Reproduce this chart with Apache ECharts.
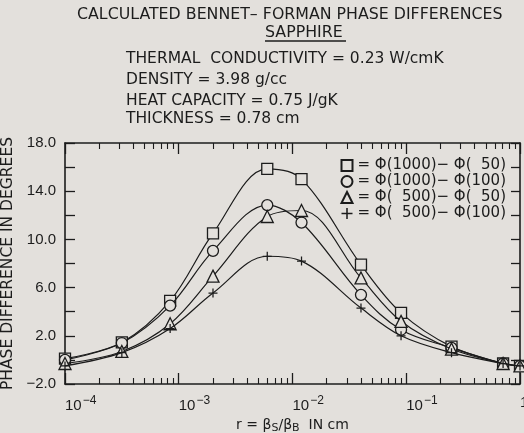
<!DOCTYPE html>
<html><head><meta charset="utf-8">
<script src="https://cdn.jsdelivr.net/npm/echarts@6/dist/echarts.min.js"></script>
<style>html,body{margin:0;padding:0;background:#e3e0dc;}#c{width:524px;height:433px;}</style>
</head><body><div id="c"></div>
<script>
var rValues = [1e-4, 3.16e-4, 8.4e-4, 2e-3, 6e-3, 1.2e-2, 4e-2, 9e-2, 0.25, 0.71, 1];
var sq1000_50  = [0.1, 1.45, 4.9, 10.5, 15.85, 15.0, 7.9, 3.9, 1.1, -0.3, -0.5];
var ci1000_100 = [0.0, 1.4, 4.5, 9.05, 12.85, 11.4, 5.4, 2.5, 1.0, -0.3, -0.5];
var tr500_50   = [-0.3, 0.7, 3.0, 6.95, 11.9, 12.4, 6.8, 3.2, 0.9, -0.3, -0.5];
var pl500_100  = [-0.5, 0.6, 2.6, 5.55, 8.6, 8.2, 4.3, 2.0, 0.6, -0.3, -0.5];
var seriesNames = ['= Φ(1000)− Φ(  50)', '= Φ(1000)− Φ(100)', '= Φ(  500)− Φ(  50)', '= Φ(  500)− Φ(100)'];
var yLabelValues = [-2, 2, 6, 10, 14, 18];
var titleLines = ['CALCULATED BENNET– FORMAN PHASE DIFFERENCES', 'SAPPHIRE'];
var paramLines = ['THERMAL  CONDUCTIVITY = 0.23 W/cmK', 'DENSITY = 3.98 g/cc', 'HEAT CAPACITY = 0.75 J/gK', 'THICKNESS = 0.78 cm'];

var BG = '#e3e0dc', INK = '#1c1c1c', FONT = 'DejaVu Sans', NUMFONT = 'Liberation Sans';
var minorExp = [];
for (var d = -4; d <= -1; d++) for (var m = 2; m <= 9; m++) minorExp.push(d + Math.log10(m));

function pairs(ys) { return rValues.map(function (x, i) { return [x, ys[i]]; }); }
var plusPath = 'path://M-0.7,-5 L0.7,-5 L0.7,-0.7 L5,-0.7 L5,0.7 L0.7,0.7 L0.7,5 L-0.7,5 L-0.7,0.7 L-5,0.7 L-5,-0.7 L-0.7,-0.7 Z';
var symbols = ['rect', 'circle', 'triangle', plusPath];
var datasets = [sq1000_50, ci1000_100, tr500_50, pl500_100];

var chart = echarts.init(document.getElementById('c'), null, {renderer: 'canvas'});
var baseLog = {type: 'log', logBase: 10, min: 1e-4, max: 1, gridIndex: 0, splitLine: {show: false}};
function ax(extra) { return Object.assign({}, baseLog, extra); }
function minorAx(pos) {
  return {type: 'value', min: -4, max: 0, position: pos, gridIndex: 0, splitLine: {show: false},
    axisLine: {show: false, onZero: false}, axisLabel: {show: false},
    axisTick: {show: true, inside: true, length: 6, customValues: minorExp, lineStyle: {color: INK, width: 1.1}}};
}

var graphics = [];
graphics.push({type: 'text', x: 77, y: 15, style: {text: titleLines[0], font: '15.8px ' + FONT, fill: INK, verticalAlign: 'middle'}});
graphics.push({type: 'text', x: 265, y: 33, style: {text: titleLines[1], font: '15.8px ' + FONT, fill: INK, verticalAlign: 'middle'}});
graphics.push({type: 'line', shape: {x1: 265, y1: 41, x2: 346, y2: 41}, style: {stroke: INK, lineWidth: 1.5}});
var paramY = [59, 80, 101, 119];
paramLines.forEach(function (t, i) {
  graphics.push({type: 'text', x: 126, y: paramY[i], style: {text: t, font: '15.5px ' + FONT, fill: INK, verticalAlign: 'middle'}});
});

chart.setOption({
  backgroundColor: BG,
  animation: false,
  textStyle: {fontFamily: FONT, color: INK},
  grid: {left: 65, right: 4, top: 143, bottom: 49, containLabel: false, outerBoundsMode: 'none'},
  graphic: graphics,
  legend: {
    orient: 'vertical', right: 18, top: 158, itemGap: 1, itemWidth: 11, itemHeight: 11, padding: 0,
    textStyle: {fontSize: 15, color: INK, fontFamily: FONT, lineHeight: 14},
    data: seriesNames.map(function (n, i) { return {name: n, icon: symbols[i]}; })
  },
  xAxis: [
    ax({position: 'bottom', axisLine: {onZero: false, lineStyle: {color: INK, width: 1.6}},
      axisTick: {inside: true, length: 11, lineStyle: {color: INK, width: 1.3}},
      axisLabel: {
        margin: 11, align: 'left', color: INK, fontSize: 15, fontFamily: NUMFONT,
        formatter: function (v) {
          var e = Math.round(Math.log10(v));
          if (e === 0) return '1';
          return '{b|10}{sup|−' + (-e) + '}';
        },
        rich: {b: {fontSize: 15, fontFamily: NUMFONT, padding: [0, 0, 0, 0]}, sup: {fontSize: 12, fontFamily: NUMFONT, padding: [0, 0, 9, 1]}}
      },
      name: 'r = β{s|S}/β{s|B}  IN cm', nameLocation: 'middle', nameGap: 31,
      nameTextStyle: {fontSize: 14, color: INK, fontFamily: FONT, rich: {s: {fontSize: 11, fontFamily: FONT, padding: [6, 0, 0, 0]}}}
    }),
    minorAx('bottom'),
    ax({position: 'top', axisLine: {onZero: false, lineStyle: {color: INK, width: 1.6}}, axisLabel: {show: false},
      axisTick: {inside: true, length: 11, lineStyle: {color: INK, width: 1.3}}}),
    minorAx('top')
  ],
  yAxis: [
    {type: 'value', position: 'left', min: -2, max: 18, interval: 2, splitLine: {show: false},
      axisLine: {show: true, onZero: false, lineStyle: {color: INK, width: 1.6}},
      axisTick: {show: true, inside: true, length: 10, lineStyle: {color: INK, width: 1.3}},
      axisLabel: {margin: 9, color: INK, fontSize: 15, fontFamily: NUMFONT,
        formatter: function (v) { return yLabelValues.indexOf(v) >= 0 ? (v < 0 ? '−' + (-v).toFixed(1) : v.toFixed(1)) : ''; }},
      name: 'PHASE DIFFERENCE IN DEGREES', nameLocation: 'middle', nameGap: 39, nameRotate: 90,
      nameTextStyle: {fontSize: 15.5, color: INK, fontFamily: FONT}
    },
    {type: 'value', position: 'right', min: -2, max: 18, interval: 2, splitLine: {show: false},
      axisLine: {show: true, onZero: false, lineStyle: {color: INK, width: 1.6}},
      axisTick: {show: true, inside: true, length: 9, lineStyle: {color: INK, width: 1.3}},
      axisLabel: {show: false}}
  ],
  series: datasets.map(function (ys, i) {
    var plus = i === 3;
    return {
      name: seriesNames[i], type: 'line', xAxisIndex: 0, yAxisIndex: 0,
      data: pairs(ys), smooth: 0.35, symbol: symbols[i],
      symbolSize: plus ? 9 : (i === 2 ? 12 : 11),
      lineStyle: {color: INK, width: 1.2},
      itemStyle: plus ? {color: INK, borderColor: INK, borderWidth: 0} : {color: BG, borderColor: INK, borderWidth: 1.3},
      z: 3 + i
    };
  })
});
</script></body></html>
